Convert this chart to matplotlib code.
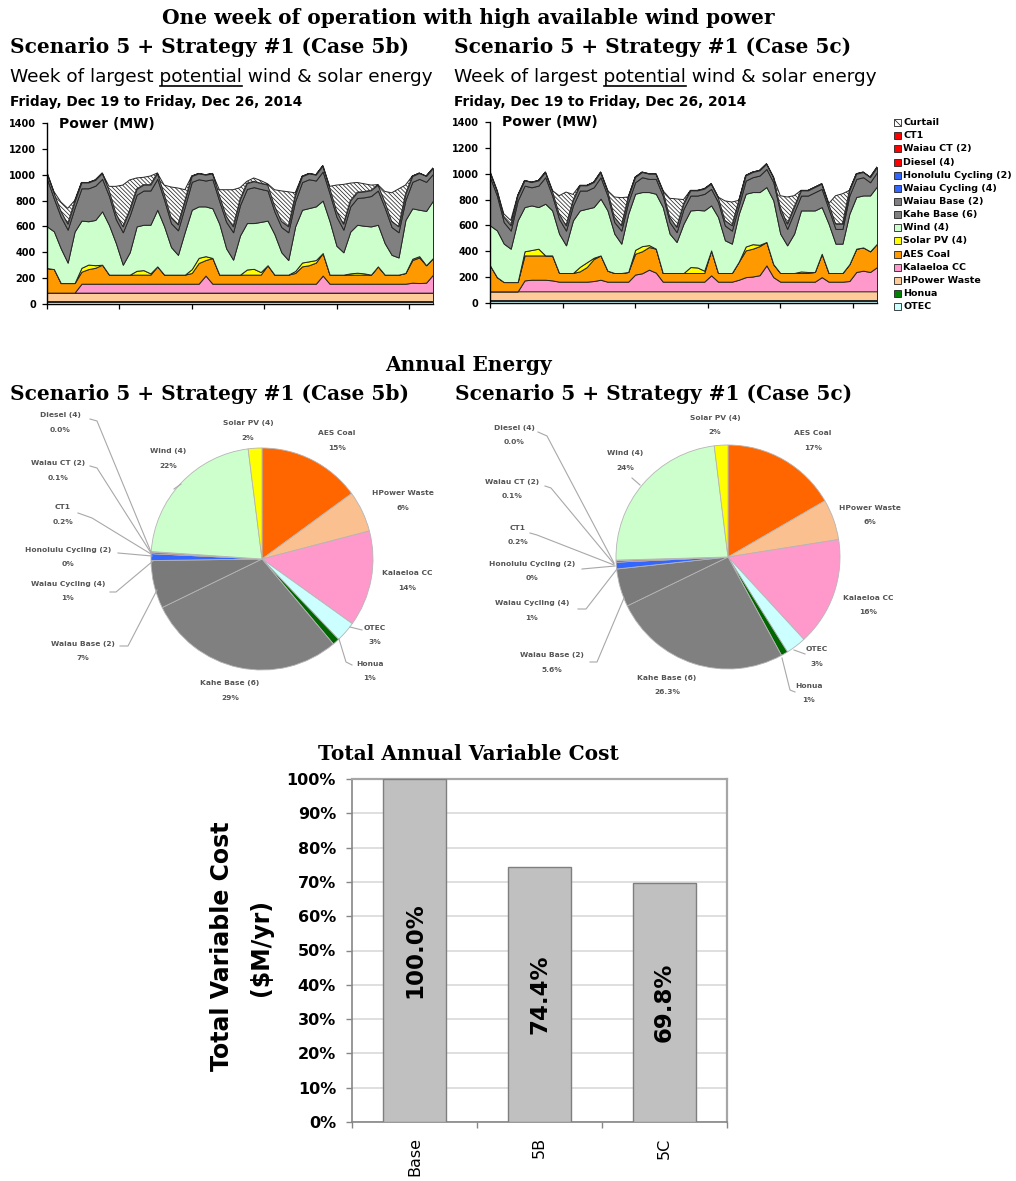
import numpy as np
import matplotlib
matplotlib.use("Agg")
import matplotlib.pyplot as plt
from matplotlib.patches import Rectangle

plt.rcParams["hatch.linewidth"] = 0.55
plt.rcParams["font.family"] = ["DejaVu Sans"]

FIG_W, FIG_H = 1016, 1181

# ------------------------------------------------------------------ data
hours = np.arange(0, 169, 3)          # one week, read every 3 hours

# Case 5b weekly dispatch (MW)
b_otec = 18
b_honua = 8
b_hpower = 62
b_kalaeloa = [0, 0, 0, 0, 0, 69, 69, 69, 69, 69,
              69, 69, 69, 69, 69, 69, 69, 69, 69, 69,
              69, 69, 69, 132, 69, 69, 69, 69, 69, 69,
              69, 69, 69, 69, 69, 69, 69, 69, 69, 69,
              132, 69, 69, 69, 69, 69, 69, 69, 69, 69,
              69, 69, 69, 77, 74, 77, 139]
b_aes_coal = [190, 182, 74, 74, 74, 93, 113, 123, 147, 70,
              70, 70, 70, 70, 70, 70, 134, 70, 70, 70,
              70, 83, 160, 120, 199, 70, 70, 70, 70, 70,
              70, 70, 143, 70, 70, 70, 83, 134, 143, 163,
              174, 70, 70, 70, 70, 70, 70, 70, 134, 70,
              70, 70, 83, 175, 198, 135, 129]
b_solar = [0, 0, 0, 0, 0, 30, 35, 20, 0, 0,
           0, 0, 0, 30, 35, 10, 0, 0, 0, 0,
           0, 30, 40, 30, 0, 0, 0, 0, 0, 40,
           45, 20, 0, 0, 0, 0, 15, 30, 30, 20,
           0, 0, 0, 0, 10, 15, 10, 0, 0, 0,
           0, 0, 0, 10, 10, 0, 0]
b_wind = [322, 292, 268, 158, 398, 365, 335, 350, 413, 383,
          243, 77, 173, 343, 351, 376, 438, 373, 213, 153,
          333, 459, 398, 385, 384, 393, 203, 116, 303, 359,
          354, 388, 345, 313, 173, 113, 345, 408, 412, 415,
          406, 413, 223, 173, 323, 371, 368, 373, 322, 243,
          153, 133, 410, 390, 359, 420, 444]
b_kahe = [368, 253, 245, 255, 185, 250, 255, 265, 251, 225,
          185, 251, 285, 245, 265, 265, 239, 205, 185, 190,
          195, 216, 210, 200, 225, 175, 205, 212, 235, 264,
          278, 255, 233, 175, 195, 215, 195, 214, 223, 200,
          225, 215, 225, 175, 195, 207, 220, 235, 265, 275,
          215, 195, 155, 205, 239, 225, 207]
b_waiau_base = 45
b_curtail = [0, 10, 70, 120, 10, 0, 0, 0, 0, 30,
             210, 320, 230, 85, 57, 67, 0, 70, 235, 282,
             84, 0, 0, 0, 0, 44, 204, 284, 90, 14,
             26, 20, 7, 124, 235, 268, 20, 0, 0, 0,
             0, 10, 200, 305, 135, 75, 60, 40, 0, 81,
             220, 290, 70, 0, 0, 0, 0]

# Case 5c weekly dispatch (MW)
c_otec = 18
c_honua = 8
c_hpower = 64
c_kalaeloa = [0, 0, 0, 0, 0, 85, 90, 90, 90, 85,
              75, 75, 75, 75, 75, 80, 90, 75, 75, 75,
              75, 130, 140, 168, 145, 75, 75, 75, 75, 75,
              75, 75, 124, 75, 75, 75, 90, 110, 115, 125,
              201, 110, 75, 75, 75, 75, 75, 75, 110, 75,
              75, 75, 80, 150, 160, 150, 188]
c_aes_coal = [201, 110, 72, 72, 72, 193, 188, 188, 188, 193,
              67, 67, 67, 80, 113, 170, 188, 85, 67, 67,
              75, 161, 170, 175, 185, 67, 67, 67, 67, 67,
              67, 67, 193, 67, 67, 67, 140, 207, 215, 225,
              181, 100, 67, 67, 67, 67, 67, 75, 181, 67,
              67, 67, 130, 180, 180, 160, 181]
c_solar = [0, 0, 0, 0, 0, 32, 42, 52, 0, 0,
           0, 0, 0, 35, 37, 10, 0, 0, 0, 0,
           0, 30, 40, 15, 0, 0, 0, 0, 0, 46,
           43, 18, 0, 0, 0, 0, 0, 30, 35, 10,
           0, 0, 0, 0, 0, 12, 8, 0, 0, 0,
           0, 0, 0, 0, 0, 0, 0]
c_wind = [309, 362, 297, 258, 477, 342, 345, 322, 400, 348,
          304, 214, 407, 436, 414, 392, 439, 466, 304, 227,
          450, 434, 418, 410, 425, 510, 304, 240, 381, 438,
          445, 466, 348, 433, 253, 227, 370, 408, 403, 408,
          425, 494, 304, 214, 304, 472, 476, 476, 361, 381,
          227, 227, 390, 400, 402, 432, 443]
c_kahe = [373, 269, 166, 140, 153, 166, 140, 166, 205, 115,
          114, 114, 115, 154, 141, 153, 166, 115, 89, 101,
          90, 89, 115, 102, 115, 89, 89, 76, 115, 115,
          111, 128, 128, 115, 114, 101, 64, 102, 115, 128,
          140, 140, 166, 127, 166, 115, 115, 141, 141, 115,
          114, 114, 141, 140, 141, 102, 110]
c_waiau_base = 40
c_curtail = [0, 0, 25, 39, 0, 0, 0, 0, 0, 0,
             140, 258, 46, 0, 0, 0, 0, 0, 155, 215,
             0, 0, 0, 0, 0, 0, 145, 217, 32, 0,
             0, 0, 0, 0, 151, 181, 0, 0, 0, 0,
             0, 0, 88, 207, 88, 0, 0, 0, 0, 0,
             217, 232, 0, 0, 0, 0, 0]

legend_names = ["Curtail", "CT1", "Waiau CT (2)", "Diesel (4)",
                "Honolulu Cycling (2)", "Waiau Cycling (4)", "Waiau Base (2)",
                "Kahe Base (6)", "Wind (4)", "Solar PV (4)", "AES Coal",
                "Kalaeloa CC", "HPower Waste", "Honua", "OTEC"]

# Annual energy shares (clockwise from 12 o'clock)
pie_names = ["AES Coal", "HPower Waste", "Kalaeloa CC", "OTEC", "Honua",
             "Kahe Base (6)", "Waiau Base (2)", "Waiau Cycling (4)",
             "Honolulu Cycling (2)", "CT1", "Waiau CT (2)", "Diesel (4)",
             "Wind (4)", "Solar PV (4)"]
pie_5b = [15, 6, 14, 3, 1, 29, 7, 1, 0, 0.2, 0.1, 0.0, 22, 2]
pie_5b_labels = ["15%", "6%", "14%", "3%", "1%", "29%", "7%", "1%", "0%",
                 "0.2%", "0.1%", "0.0%", "22%", "2%"]
pie_5c = [17, 6, 16, 3, 1, 26.3, 5.6, 1, 0, 0.2, 0.1, 0.0, 24, 2]
pie_5c_labels = ["17%", "6%", "16%", "3%", "1%", "26.3%", "5.6%", "1%", "0%",
                 "0.2%", "0.1%", "0.0%", "24%", "2%"]

# Total annual variable cost
cost_cases = ["Base", "5B", "5C"]
cost_pct = [100.0, 74.4, 69.8]

# ------------------------------------------------------------------ styles
AREA_COLORS = {
    "Curtail": "white", "CT1": "#ff0000", "Waiau CT (2)": "#ff0000",
    "Diesel (4)": "#ff0000", "Honolulu Cycling (2)": "#3366ff",
    "Waiau Cycling (4)": "#3366ff", "Waiau Base (2)": "#808080",
    "Kahe Base (6)": "#808080", "Wind (4)": "#ccffcc",
    "Solar PV (4)": "#ffff00", "AES Coal": "#ff9900",
    "Kalaeloa CC": "#ff99cc", "HPower Waste": "#ffcc99",
    "Honua": "#008000", "OTEC": "#ccffff"}
PIE_COLORS = {
    "AES Coal": "#ff6600", "HPower Waste": "#fac090", "Kalaeloa CC": "#ff99cc",
    "OTEC": "#ccffff", "Honua": "#006600", "Kahe Base (6)": "#808080",
    "Waiau Base (2)": "#7a7a7a", "Waiau Cycling (4)": "#3366ff",
    "Honolulu Cycling (2)": "#1f3d99", "CT1": "#c00000",
    "Waiau CT (2)": "#ff0000", "Diesel (4)": "#800000",
    "Wind (4)": "#ccffcc", "Solar PV (4)": "#ffff00"}
HATCH = "\\" * 8

fig = plt.figure(figsize=(FIG_W / 100, FIG_H / 100), dpi=100)
ov = fig.add_axes([0, 0, 1, 1], zorder=20)
ov.set_xlim(0, FIG_W)
ov.set_ylim(FIG_H, 0)
ov.axis("off")


def px_axes(x0, y0, x1, y1, **kw):
    return fig.add_axes([x0 / FIG_W, 1 - y1 / FIG_H,
                         (x1 - x0) / FIG_W, (y1 - y0) / FIG_H], **kw)


SERIF = dict(family="DejaVu Serif", weight="bold", size=14.5)


def draw_week(ax, layers):
    base = np.zeros(hours.size)
    for name, vals in layers:
        v = np.broadcast_to(np.asarray(vals, dtype=float), hours.shape)
        top = base + v
        ax.fill_between(hours, base, top, facecolor=AREA_COLORS[name],
                        edgecolor="#262626", linewidth=0.7,
                        hatch=HATCH if name == "Curtail" else None, zorder=2)
        base = top
    ax.set_xlim(0, 168)
    ax.set_ylim(0, 1400)
    ax.set_xticks(np.arange(0, 168, 31.5))
    ax.set_xticklabels([])
    ax.set_yticks(np.arange(0, 1401, 200))
    ax.set_yticklabels([str(v) for v in range(0, 1401, 200)],
                       fontsize=7, fontweight="bold")
    ax.tick_params(axis="both", direction="out", length=3.6, width=0.9, pad=4.5)
    for s in ("top", "right"):
        ax.spines[s].set_visible(False)
    for s in ("left", "bottom"):
        ax.spines[s].set_linewidth(1.0)
    ax.patch.set_alpha(0)


def week_layers(otec, honua, hpower, kal, coal, solar, wind, kahe, wb, curt):
    return [("OTEC", otec), ("Honua", honua), ("HPower Waste", hpower),
            ("Kalaeloa CC", kal), ("AES Coal", coal), ("Solar PV (4)", solar),
            ("Wind (4)", wind), ("Kahe Base (6)", kahe),
            ("Waiau Base (2)", wb), ("Curtail", curt)]


ax_b = px_axes(47, 123, 433, 304)
draw_week(ax_b, week_layers(b_otec, b_honua, b_hpower, b_kalaeloa, b_aes_coal,
                            b_solar, b_wind, b_kahe, b_waiau_base, b_curtail))
ax_c = px_axes(490, 122, 877, 303)
draw_week(ax_c, week_layers(c_otec, c_honua, c_hpower, c_kalaeloa, c_aes_coal,
                            c_solar, c_wind, c_kahe, c_waiau_base, c_curtail))

# ---- headings of the weekly section
ov.text(468, 18, "One week of operation with high available wind power",
        ha="center", va="center", **SERIF)
renderer = fig.canvas.get_renderer()


def text_width(s, **kw):
    t = ov.text(0, 0, s, **kw)
    w = t.get_window_extent(renderer).width
    t.remove()
    return w


def week_block(x, case):
    ov.text(x, 47, "Scenario 5 + Strategy #1 (Case %s)" % case,
            ha="left", va="center", **SERIF)
    kw = dict(family="DejaVu Sans", size=13.3)
    full = "Week of largest potential wind & solar energy"
    ov.text(x, 82, full, ha="left", va="baseline", **kw)
    x1 = x + text_width("Week of largest potential", **kw)
    x0 = x1 - text_width("potential", **kw)
    ov.plot([x0, x1], [85.5, 85.5], color="black", lw=1.2)
    ov.text(x, 102, "Friday, Dec 19 to Friday, Dec 26, 2014", ha="left",
            va="center", family="DejaVu Sans", weight="bold", size=9.9)


week_block(10, "5b")
week_block(454, "5c")
ov.text(59, 124, "Power (MW)", ha="left", va="center", weight="bold", size=10)
ov.text(502, 122, "Power (MW)", ha="left", va="center", weight="bold", size=10)

# ---- legend
for i, name in enumerate(legend_names):
    y = 122.7 + 13.14 * i
    ov.add_patch(Rectangle((894, y - 3.5), 7, 7, facecolor=AREA_COLORS[name],
                           edgecolor="#222222", lw=0.6,
                           hatch="\\" * 4 if name == "Curtail" else None))
    ov.text(903, y, name, ha="left", va="center", weight="bold", size=6.8)

# ------------------------------------------------------------------ pies
ov.text(468, 365, "Annual Energy", ha="center", va="center", **SERIF)
ov.text(10, 394, "Scenario 5 + Strategy #1 (Case 5b)", ha="left", va="center", **SERIF)
ov.text(455, 394, "Scenario 5 + Strategy #1 (Case 5c)", ha="left", va="center", **SERIF)

pos_5b = [(337, 433), (403, 493), (407, 573), (375, 628), (370, 664),
          (230, 683), (83, 644), (68, 584), (68, 550), (63, 507),
          (58, 463), (60, 415), (168, 451), (248, 423)]
lead_5b = [[(90, 419), (97, 421), (151, 552)],
           [(90, 466), (97, 468), (151, 553)],
           [(78, 513), (92, 518), (151, 554)],
           [(118, 553), (152, 556)],
           [(110, 592), (116, 592), (153, 561)],
           [(120, 646), (128, 646), (157, 590)],
           [(352, 665), (346, 662), (339, 639)],
           [(362, 630), (350, 627)],
           [(181, 484), (174, 489)]]
pos_5c = [(813, 433), (870, 508), (868, 598), (817, 649), (809, 686),
          (667, 678), (552, 655), (532, 603), (532, 564), (518, 528),
          (512, 482), (514, 428), (625, 453), (715, 418)]
lead_5c = [[(538, 432), (547, 436), (614, 563)],
           [(545, 486), (551, 488), (614, 564)],
           [(530, 533), (537, 535), (614, 565)],
           [(582, 569), (615, 566)],
           [(578, 609), (586, 609), (617, 569)],
           [(590, 662), (597, 662), (624, 598)],
           [(795, 692), (790, 690), (782, 658)],
           [(805, 654), (794, 650)],
           [(632, 478), (640, 485)]]


def draw_pie(ax, values, pct_labels, positions, leaders):
    ax.pie(values, colors=[PIE_COLORS[n] for n in pie_names], startangle=90,
           counterclock=False, radius=1,
           wedgeprops=dict(edgecolor="#b5b5b5", linewidth=0.6))
    ax.set_xlim(-1, 1)
    ax.set_ylim(-1, 1)
    for name, pct, (x, y) in zip(pie_names, pct_labels, positions):
        ov.text(x, y, name, ha="center", va="center", weight="bold",
                size=5.4, color="#555555")
        ov.text(x, y + 14.5, pct, ha="center", va="center", weight="bold",
                size=5.4, color="#555555")
    for pts in leaders:
        xs, ys = zip(*pts)
        ov.plot(xs, ys, color="#a8a8a8", lw=0.8)


draw_pie(px_axes(151, 448, 373, 670), pie_5b, pie_5b_labels, pos_5b, lead_5b)
draw_pie(px_axes(616, 445, 840, 669), pie_5c, pie_5c_labels, pos_5c, lead_5c)

# ------------------------------------------------------------------ bars
ov.text(468, 754, "Total Annual Variable Cost", ha="center", va="center", **SERIF)
bx = px_axes(352, 779, 727, 1122)
xpos = np.arange(len(cost_cases))
bx.bar(xpos, cost_pct, width=0.5, color="#c0c0c0", edgecolor="#7f7f7f",
       linewidth=1.0, zorder=3)
for xi, v in zip(xpos, cost_pct):
    bx.text(xi, v / 2, "%.1f%%" % v, rotation=90, ha="center", va="center",
            fontsize=16.5, fontweight="bold", zorder=4)
bx.set_xlim(-0.5, 2.5)
bx.set_ylim(0, 100)
bx.set_yticks(np.arange(0, 101, 10))
bx.set_yticklabels(["%d%%" % v for v in range(0, 101, 10)],
                   fontsize=11.5, fontweight="bold")
bx.yaxis.grid(True, color="#d9d9d9", linewidth=1.2, zorder=0)
bx.set_axisbelow(True)
bx.set_xticks(xpos)
bx.set_xticklabels(cost_cases, rotation=90, fontsize=11.5, va="top")
bx.set_xticks([-0.5, 0.5, 1.5, 2.5], minor=True)
bx.tick_params(axis="x", which="major", length=0, pad=11)
bx.tick_params(axis="x", which="minor", length=4.5, width=1, color="#868686",
               direction="out")
bx.tick_params(axis="y", length=4.5, width=1, color="#868686", pad=7,
               direction="out")
for s in ("left", "bottom"):
    bx.spines[s].set_color("#868686")
    bx.spines[s].set_linewidth(1.2)
for s in ("top", "right"):
    bx.spines[s].set_color("#a6a6a6")
    bx.spines[s].set_linewidth(1.6)
ov.text(222, 946, "Total Variable Cost", rotation=90, ha="center", va="center",
        weight="bold", size=17)
ov.text(261, 947, "($M/yr)", rotation=90, ha="center", va="center",
        weight="bold", size=17)

fig.savefig("out.png", dpi=100)
